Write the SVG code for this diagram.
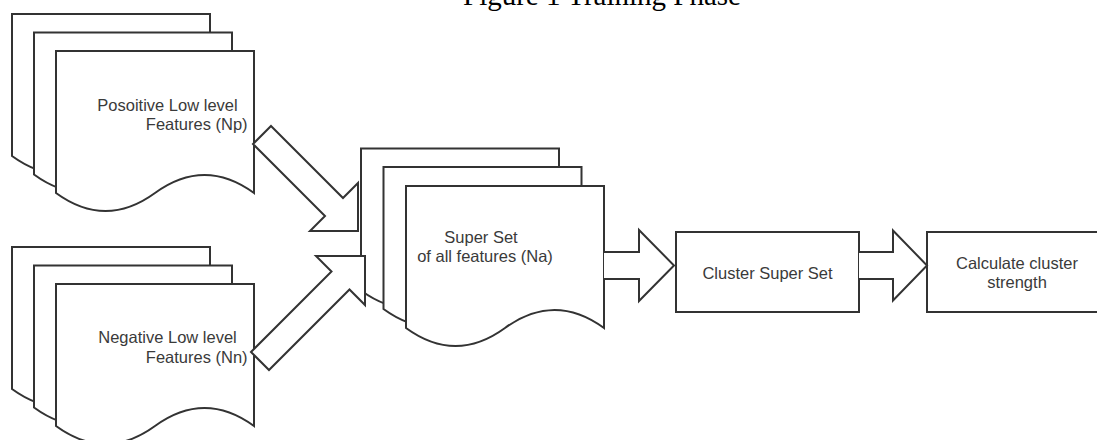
<svg xmlns="http://www.w3.org/2000/svg" width="1097" height="440" viewBox="0 0 1097 440">
  <defs>
    <path id="docShape" d="M0,0 H198 V142 Q148.5,106 99,142 Q49.5,178 0,142 Z"/>
  </defs>
  <style>
    .shape { fill: #ffffff; stroke: #333333; stroke-width: 2; stroke-linejoin: miter; }
    .lbl { font-family: "Liberation Sans", Arial, sans-serif; font-size: 16.5px; fill: #3a3a3a; }
    .title { font-family: "Liberation Serif", "Times New Roman", serif; font-size: 29px; fill: #000000; }
  </style>
  <rect x="0" y="0" width="1097" height="440" fill="#ffffff"/>

  <g id="title">
    <text class="title" x="602" y="4.5" text-anchor="middle">Figure 1 Training Phase</text>
  </g>

  <g id="node-positive">
    <use href="#docShape" class="shape" x="12" y="14"/>
    <use href="#docShape" class="shape" x="34" y="32.5"/>
    <use href="#docShape" class="shape" x="56" y="51"/>
    <text class="lbl" x="167.5" y="110.5" text-anchor="middle">Posoitive Low level</text>
    <text class="lbl" x="196.7" y="130" text-anchor="middle">Features (Np)</text>
  </g>

  <g id="node-negative">
    <use href="#docShape" class="shape" x="12" y="247"/>
    <use href="#docShape" class="shape" x="34" y="265.5"/>
    <use href="#docShape" class="shape" x="56" y="284"/>
    <text class="lbl" x="167.5" y="343" text-anchor="middle">Negative Low level</text>
    <text class="lbl" x="196.7" y="362.5" text-anchor="middle">Features (Nn)</text>
  </g>

  <g id="node-superset">
    <use href="#docShape" class="shape" x="361" y="148.5"/>
    <use href="#docShape" class="shape" x="383.5" y="167"/>
    <use href="#docShape" class="shape" x="406" y="186"/>
    <text class="lbl" x="481" y="243" text-anchor="middle">Super Set</text>
    <text class="lbl" x="485" y="262" text-anchor="middle">of all features (Na)</text>
  </g>

  <g id="node-cluster">
    <rect class="shape" x="676" y="232" width="183" height="80"/>
    <text class="lbl" x="767.5" y="278.5" text-anchor="middle">Cluster Super Set</text>
  </g>

  <g id="node-strength">
    <rect class="shape" x="927" y="232" width="183" height="80"/>
    <text class="lbl" x="1017" y="269" text-anchor="middle">Calculate cluster</text>
    <text class="lbl" x="1017" y="288" text-anchor="middle">strength</text>
  </g>

  <g id="connectors">
    <path class="shape" d="M271,126 L343,198 L358,183 L358,231 L310,231 L325,216 L253,144 Z"/>
    <path class="shape" d="M251,352 L331.5,271.5 L316,256 L365,256 L365,305 L349.5,289.5 L269,370 Z"/>
    <path class="shape" d="M604,252 L639,252 L639,230 L674,265.5 L639,301 L639,279 L604,279"/>
    <path class="shape" d="M859,252 L893,252 L893,230.5 L927,265.5 L893,300.5 L893,279 L859,279"/>
  </g>
</svg>
